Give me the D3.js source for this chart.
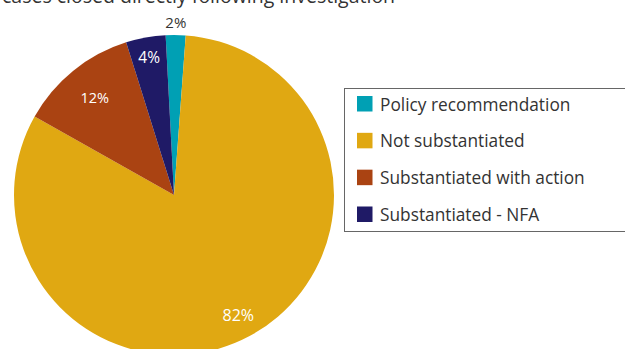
<!DOCTYPE html>
<html>
<head>
<meta charset="utf-8">
<script src="https://cdn.jsdelivr.net/npm/d3@7"></script>
<style>
  html, body { margin: 0; padding: 0; background: #fff; }
  svg { display: block; }
  text { font-family: "Open Sans", "Noto Sans", sans-serif; }
</style>
</head>
<body>
<svg id="chart" width="625" height="349"></svg>
<script>
// Outcome categories, drawn clockwise from the top
const categories = ["Policy recommendation", "Not substantiated", "Substantiated with action", "Substantiated - NFA"];
const values = [2, 82, 12, 4];               // percent of cases
const colors = ["#00a0b4", "#e0a812", "#aa4312", "#1f1a66"];
const labelText = ["2%", "82%", "12%", "4%"];
const titleText = "cases closed directly following investigation";

const svg = d3.select("#chart");
const cx = 174, cy = 195, radius = 160;

// Title line sits mostly above the visible area
svg.append("text")
  .attr("x", 2).attr("y", 3)
  .attr("font-size", 19.5)
  .attr("fill", "#333")
  .text(titleText);

const pie = d3.pie().sort(null).value(d => d)
  .startAngle(-3 * Math.PI / 180)
  .endAngle(357 * Math.PI / 180);
const arcs = pie(values);
const arc = d3.arc().innerRadius(0).outerRadius(radius);

const g = svg.append("g").attr("transform", `translate(${cx},${cy})`);
g.selectAll("path.slice")
  .data(arcs)
  .join("path")
  .attr("class", "slice")
  .attr("d", arc)
  .attr("fill", (d, i) => colors[i]);

// Value labels: the small slice gets its label just outside the rim
const labelRadius = [173, 136, 126, 140];
const labelSize = [15, 16, 14.5, 15.5];
g.selectAll("text.value")
  .data(arcs)
  .join("text")
  .attr("class", "value")
  .attr("transform", (d, i) => {
    const r = labelRadius[i];
    const c = d3.arc().innerRadius(r).outerRadius(r).centroid(d);
    return `translate(${c[0]},${c[1]})`;
  })
  .attr("text-anchor", "middle")
  .attr("dominant-baseline", "central")
  .attr("font-size", (d, i) => labelSize[i])
  .attr("fill", (d, i) => i === 0 ? "#333" : "#fff")
  .text((d, i) => labelText[i]);

// Legend
const legend = svg.append("g");
legend.append("rect")
  .attr("x", 344.5).attr("y", 88.5)
  .attr("width", 300).attr("height", 143)
  .attr("fill", "#fff")
  .attr("stroke", "#666").attr("stroke-width", 1);

const rowY = d3.scalePoint().domain(categories).range([103.5, 214]);
const rows = legend.selectAll("g.row")
  .data(categories)
  .join("g")
  .attr("class", "row")
  .attr("transform", d => `translate(357,${rowY(d)})`);
rows.append("rect")
  .attr("x", 0).attr("y", -7.5)
  .attr("width", 15.5).attr("height", 15.5)
  .attr("fill", (d, i) => colors[i]);
rows.append("text")
  .attr("x", 23).attr("y", 7)
  .attr("font-size", 17.3)
  .attr("fill", "#333")
  .text(d => d);
</script>
</body>
</html>
